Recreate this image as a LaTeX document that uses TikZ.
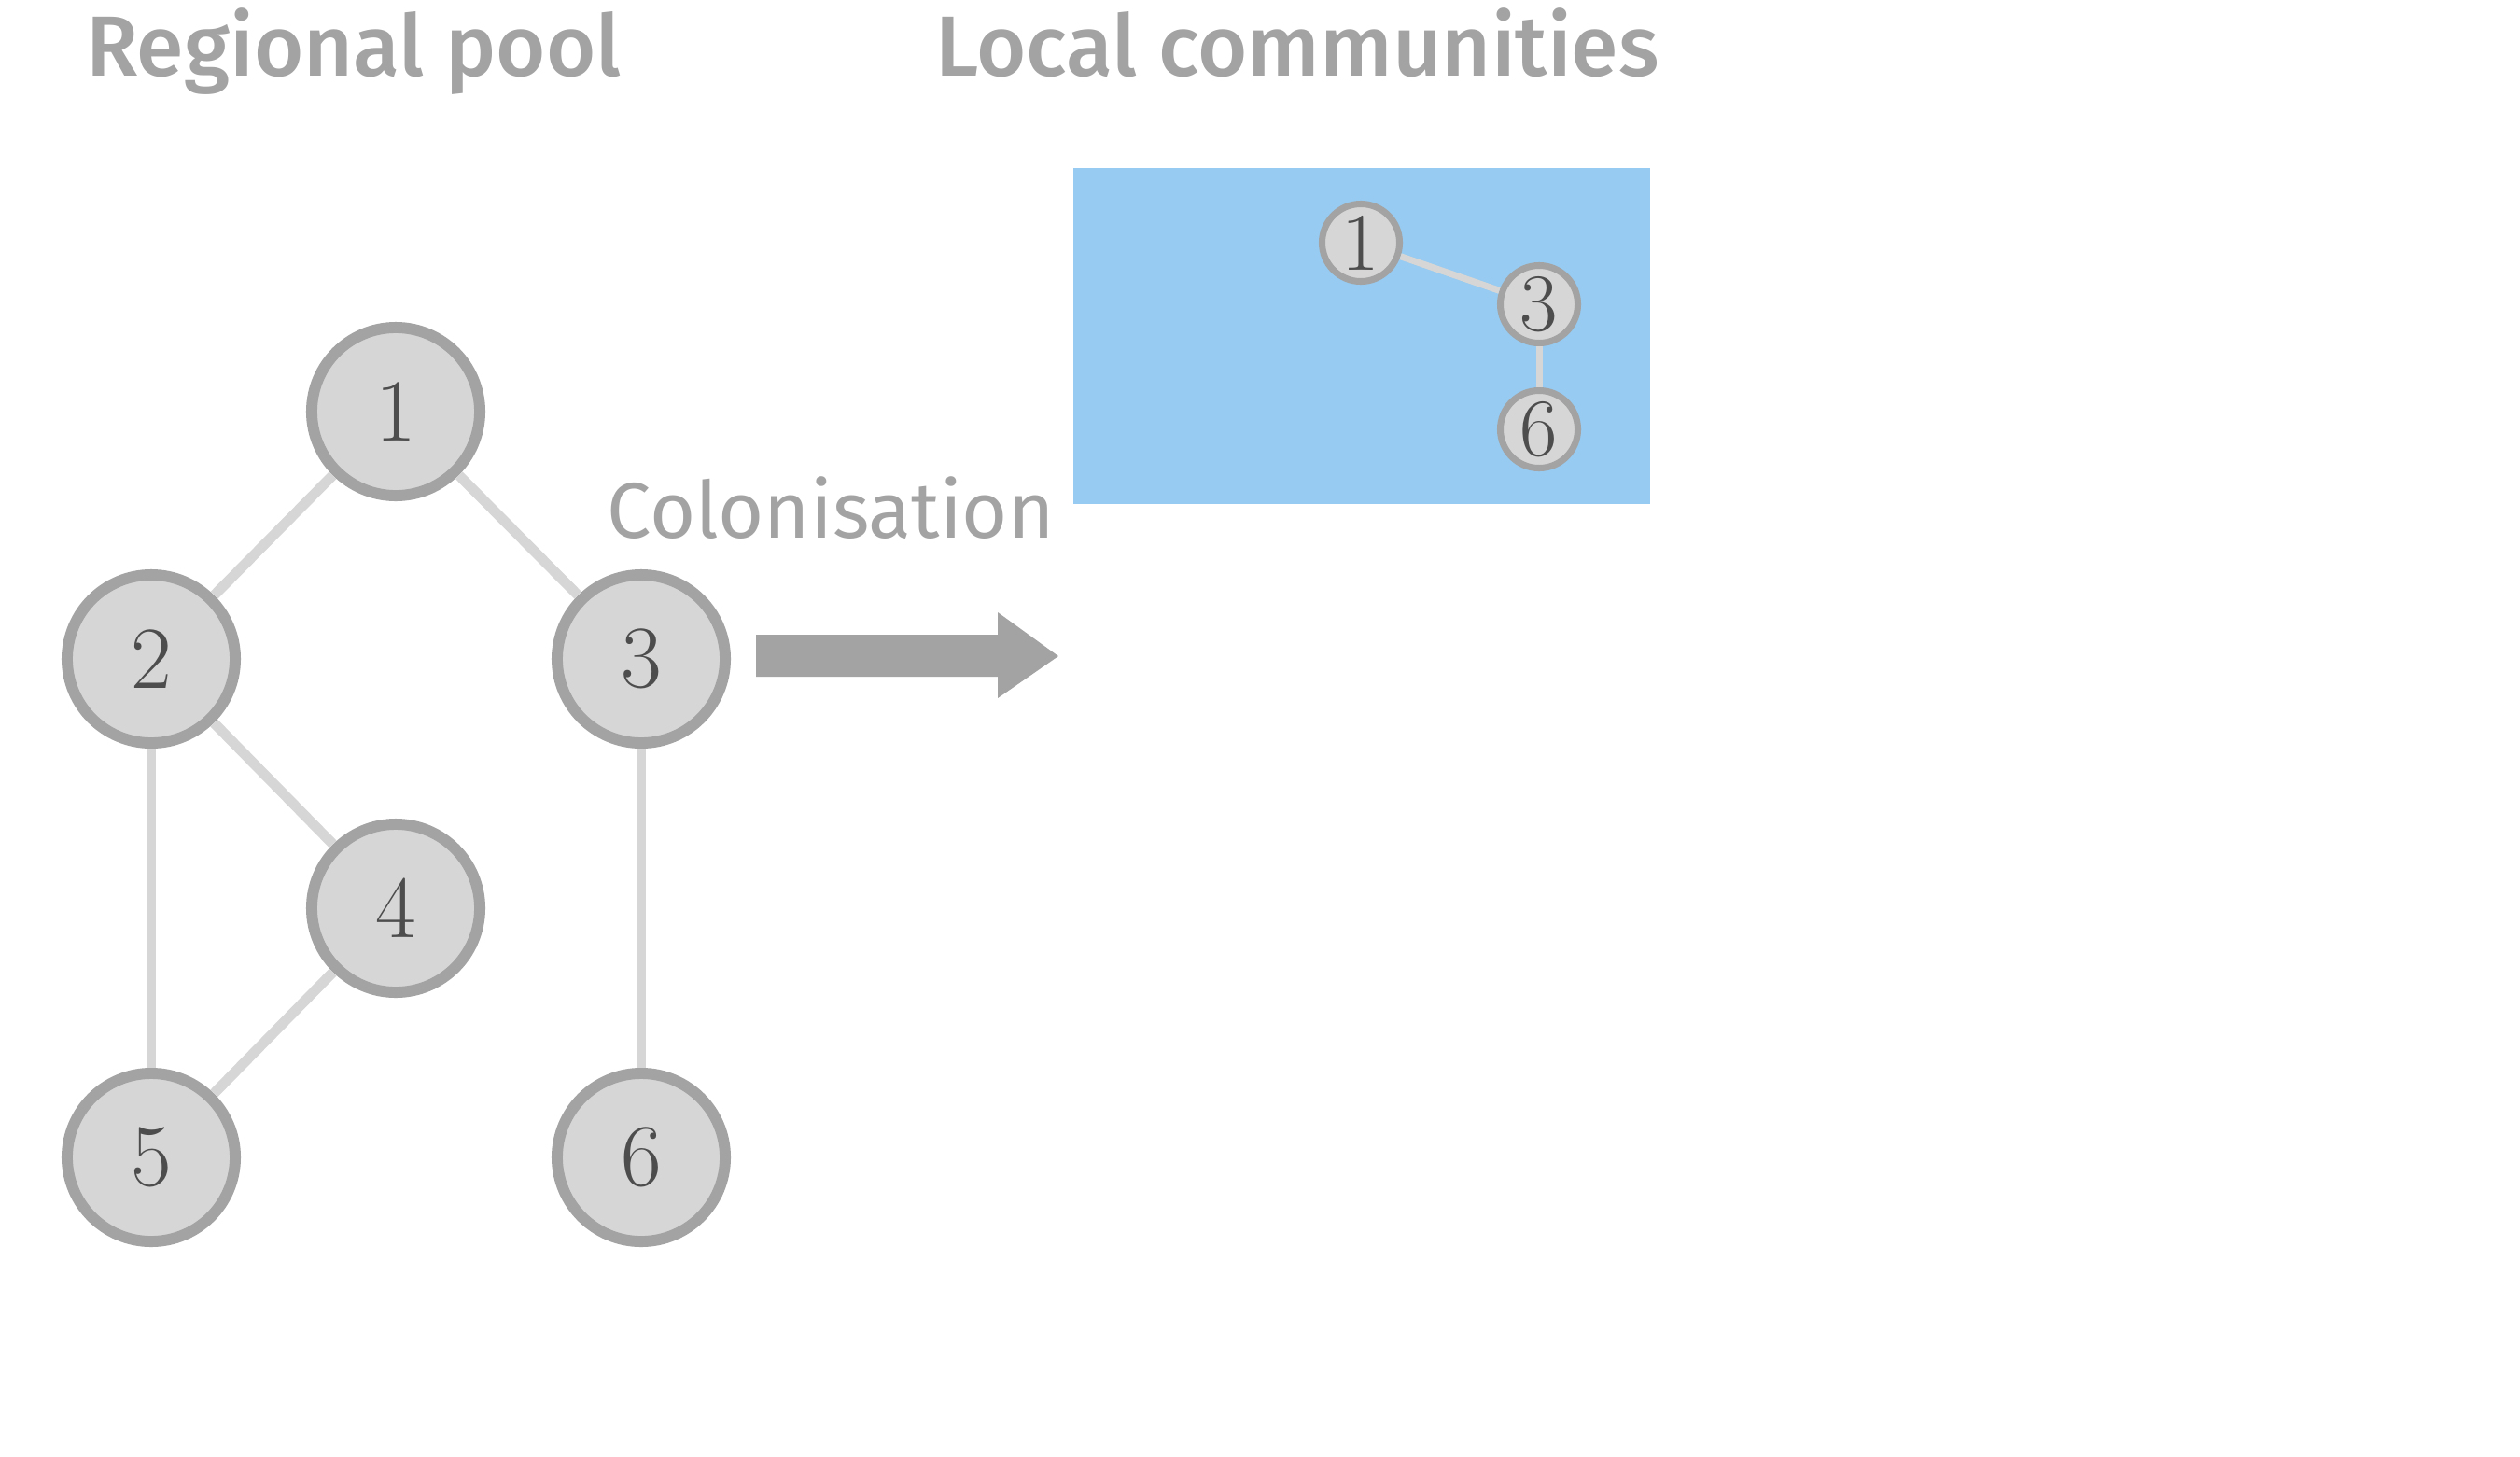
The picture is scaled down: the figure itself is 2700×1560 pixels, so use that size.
\documentclass[tikz,border=0pt]{standalone}
\usepackage{fontspec}
\setmainfont{Latin Modern Roman}
\newfontfamily\labelfont{Fira Sans}
\newfontfamily\titlefont{Fira Sans Medium}
\usetikzlibrary{positioning}

\definecolor{ringgray}{HTML}{A3A3A3}
\definecolor{fillgray}{HTML}{D6D6D6}
\definecolor{edgegray}{HTML}{D6D6D6}
\definecolor{digitgray}{HTML}{4D4D4D}
\definecolor{siteblue}{HTML}{97CBF1}

\tikzset{
  species/.style={circle, draw=ringgray, fill=fillgray, line width=3.4pt,
    minimum size=1.8cm, inner sep=0pt, text=digitgray,
    font=\fontsize{27}{27}\selectfont},
  smallspecies/.style={circle, draw=ringgray, fill=fillgray, line width=2pt,
    minimum size=0.83cm, inner sep=0pt, text=digitgray,
    font=\fontsize{25}{25}\selectfont},
  link/.style={draw=edgegray, line width=3.1pt},
  smalllink/.style={draw=edgegray, line width=2pt},
  heading/.style={text=ringgray, inner sep=0pt, anchor=base,
    font=\titlefont\fontsize{26}{30}\selectfont}
}

\begin{document}
\begin{tikzpicture}[x=0.01cm, y=-0.01cm]
\useasboundingbox (0,0) rectangle (2700,1560);

% titles
\node[heading] (pooltitle) at (379,81) {Regional pool};
\node[heading] (localtitle) at (1390,81) {Local communities};

% regional pool
\node[species] (p1) at (424,441) {1};
\node[species] (p2) at (162,706) {2};
\node[species] (p3) at (687,706) {3};
\node[species] (p4) at (424,973) {4};
\node[species] (p5) at (162,1240) {5};
\node[species] (p6) at (687,1240) {6};

\draw[link] (p1)--(p2);
\draw[link] (p1)--(p3);
\draw[link] (p2)--(p4);
\draw[link] (p2)--(p5);
\draw[link] (p4)--(p5);
\draw[link] (p3)--(p6);

% colonisation arrow
\node[text=ringgray, inner sep=0pt, anchor=base,
  font=\labelfont\fontsize{24}{28}\selectfont] (coltext) at (890,576) {Colonisation};
\fill[ringgray] (810,680) -- (1069,680) -- (1069,656) -- (1134,703)
  -- (1069,748) -- (1069,725) -- (810,725) -- cycle;

% local community
\fill[siteblue] (1150,180) rectangle (1768,540);
\node[smallspecies] (l1) at (1458,260) {1};
\node[smallspecies] (l3) at (1649,326) {3};
\node[smallspecies] (l6) at (1649,460) {6};

\draw[smalllink] (l1)--(l3);
\draw[smalllink] (l3)--(l6);
\end{tikzpicture}
\end{document}
